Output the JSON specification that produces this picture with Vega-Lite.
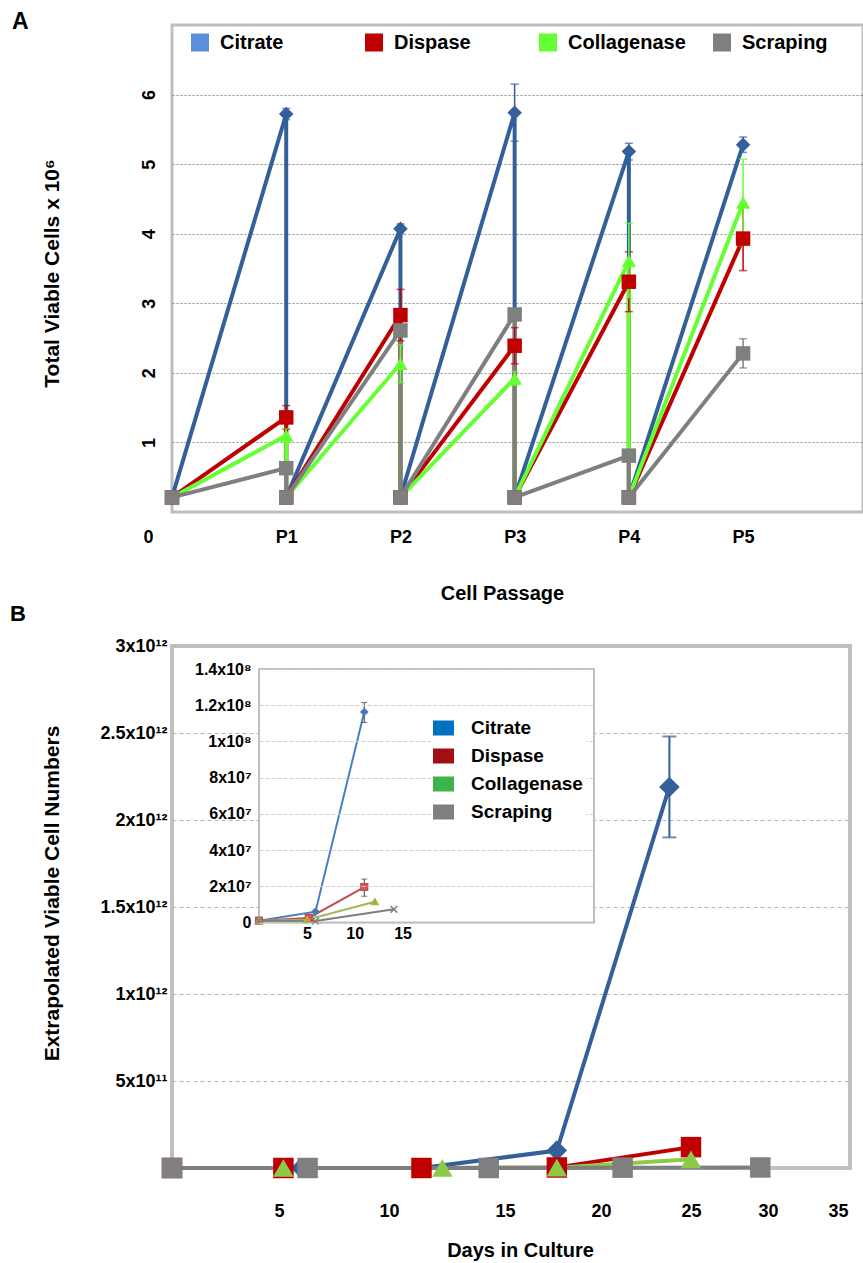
{
  "$schema": "https://vega.github.io/schema/vega-lite/v6.json",
  "background": "white",
  "padding": {"left": 8, "top": 9, "right": 0, "bottom": 0},
  "bounds": "flush",
  "spacing": 134,
  "resolve": {"scale": {"color": "independent", "shape": "independent", "fill": "independent", "stroke": "independent"}, "legend": {"color": "independent", "shape": "independent", "fill": "independent", "stroke": "independent"}},
  "config": {
    "font": "Liberation Sans",
    "axis": {"labelFont": "Liberation Sans", "labelFontWeight": "bold", "labelColor": "#000000", "titleFont": "Liberation Sans", "titleFontWeight": "bold", "titleColor": "#000000", "domain": false, "ticks": false, "tickSize": 0},
    "legend": {"labelFont": "Liberation Sans", "labelFontWeight": "bold", "labelColor": "#000000"},
    "title": {"font": "Liberation Sans", "fontWeight": "bold", "color": "#000000"}
  },
  "datasets": {
    "aSeries": [
      {"method": "Citrate", "i": 0, "x": 0, "y": 0.21}, {"method": "Citrate", "i": 1, "x": 1, "y": 5.72}, {"method": "Citrate", "i": 2, "x": 1, "y": 0.21}, {"method": "Citrate", "i": 3, "x": 2, "y": 4.07}, {"method": "Citrate", "i": 4, "x": 2, "y": 0.21}, {"method": "Citrate", "i": 5, "x": 3, "y": 5.74}, {"method": "Citrate", "i": 6, "x": 3, "y": 0.21}, {"method": "Citrate", "i": 7, "x": 4, "y": 5.18}, {"method": "Citrate", "i": 8, "x": 4, "y": 0.21}, {"method": "Citrate", "i": 9, "x": 5, "y": 5.28},
      {"method": "Dispase", "i": 0, "x": 0, "y": 0.21}, {"method": "Dispase", "i": 1, "x": 1, "y": 1.36}, {"method": "Dispase", "i": 2, "x": 1, "y": 0.21}, {"method": "Dispase", "i": 3, "x": 2, "y": 2.83}, {"method": "Dispase", "i": 4, "x": 2, "y": 0.21}, {"method": "Dispase", "i": 5, "x": 3, "y": 2.39}, {"method": "Dispase", "i": 6, "x": 3, "y": 0.21}, {"method": "Dispase", "i": 7, "x": 4, "y": 3.31}, {"method": "Dispase", "i": 8, "x": 4, "y": 0.21}, {"method": "Dispase", "i": 9, "x": 5, "y": 3.93},
      {"method": "Collagenase", "i": 0, "x": 0, "y": 0.21}, {"method": "Collagenase", "i": 1, "x": 1, "y": 1.10}, {"method": "Collagenase", "i": 2, "x": 1, "y": 0.21}, {"method": "Collagenase", "i": 3, "x": 2, "y": 2.13}, {"method": "Collagenase", "i": 4, "x": 2, "y": 0.21}, {"method": "Collagenase", "i": 5, "x": 3, "y": 1.92}, {"method": "Collagenase", "i": 6, "x": 3, "y": 0.21}, {"method": "Collagenase", "i": 7, "x": 4, "y": 3.61}, {"method": "Collagenase", "i": 8, "x": 4, "y": 0.21}, {"method": "Collagenase", "i": 9, "x": 5, "y": 4.45},
      {"method": "Scraping", "i": 0, "x": 0, "y": 0.21}, {"method": "Scraping", "i": 1, "x": 1, "y": 0.63}, {"method": "Scraping", "i": 2, "x": 1, "y": 0.21}, {"method": "Scraping", "i": 3, "x": 2, "y": 2.61}, {"method": "Scraping", "i": 4, "x": 2, "y": 0.21}, {"method": "Scraping", "i": 5, "x": 3, "y": 2.84}, {"method": "Scraping", "i": 6, "x": 3, "y": 0.21}, {"method": "Scraping", "i": 7, "x": 4, "y": 0.81}, {"method": "Scraping", "i": 8, "x": 4, "y": 0.21}, {"method": "Scraping", "i": 9, "x": 5, "y": 2.28}
    ],
    "aErr": [
      {"method": "Citrate", "x": 1, "lo": 5.64, "hi": 5.80}, {"method": "Citrate", "x": 2, "lo": 4.00, "hi": 4.14}, {"method": "Citrate", "x": 3, "lo": 5.33, "hi": 6.15}, {"method": "Citrate", "x": 4, "lo": 5.06, "hi": 5.30}, {"method": "Citrate", "x": 5, "lo": 5.17, "hi": 5.39},
      {"method": "Dispase", "x": 1, "lo": 1.19, "hi": 1.53}, {"method": "Dispase", "x": 2, "lo": 2.46, "hi": 3.20}, {"method": "Dispase", "x": 3, "lo": 2.13, "hi": 2.65}, {"method": "Dispase", "x": 4, "lo": 2.88, "hi": 3.74}, {"method": "Dispase", "x": 5, "lo": 3.47, "hi": 4.39},
      {"method": "Collagenase", "x": 1, "lo": 1.00, "hi": 1.20}, {"method": "Collagenase", "x": 2, "lo": 1.86, "hi": 2.40}, {"method": "Collagenase", "x": 3, "lo": 1.82, "hi": 2.02}, {"method": "Collagenase", "x": 4, "lo": 3.07, "hi": 4.15}, {"method": "Collagenase", "x": 5, "lo": 3.83, "hi": 5.07},
      {"method": "Scraping", "x": 1, "lo": 0.55, "hi": 0.71}, {"method": "Scraping", "x": 2, "lo": 2.55, "hi": 2.67}, {"method": "Scraping", "x": 3, "lo": 2.78, "hi": 2.90}, {"method": "Scraping", "x": 4, "lo": 0.75, "hi": 0.87}, {"method": "Scraping", "x": 5, "lo": 2.07, "hi": 2.49}
    ],
    "bMain": [
      {"method": "Citrate", "i": 0, "day": 0, "cells": 1e6}, {"method": "Citrate", "i": 1, "day": 6.0, "cells": 5.5e6}, {"method": "Citrate", "i": 2, "day": 11.4, "cells": 1.16e8}, {"method": "Citrate", "i": 3, "day": 17.7, "cells": 1.0e11}, {"method": "Citrate", "i": 4, "day": 23.8, "cells": 2.19e12},
      {"method": "Dispase", "i": 0, "day": 0, "cells": 1e6}, {"method": "Dispase", "i": 1, "day": 5.2, "cells": 2.5e6}, {"method": "Dispase", "i": 2, "day": 11.4, "cells": 1.93e7}, {"method": "Dispase", "i": 3, "day": 17.7, "cells": 3e9}, {"method": "Dispase", "i": 4, "day": 25, "cells": 1.2e11},
      {"method": "Collagenase", "i": 0, "day": 0, "cells": 1e6}, {"method": "Collagenase", "i": 1, "day": 5.2, "cells": 1.5e6}, {"method": "Collagenase", "i": 2, "day": 12.3, "cells": 1.12e7}, {"method": "Collagenase", "i": 3, "day": 17.7, "cells": 2e9}, {"method": "Collagenase", "i": 4, "day": 25, "cells": 5e10},
      {"method": "Scraping", "i": 0, "day": 0, "cells": 1e6}, {"method": "Scraping", "i": 1, "day": 6.3, "cells": 8e5}, {"method": "Scraping", "i": 2, "day": 14.3, "cells": 7.2e6}, {"method": "Scraping", "i": 3, "day": 21.2, "cells": 2e9}, {"method": "Scraping", "i": 4, "day": 29.5, "cells": 3e9}
    ],
    "bErr": [
      {"method": "Citrate", "day": 23.8, "lo": 1.9e12, "hi": 2.48e12}
    ],
    "bInset": [
      {"method": "Citrate", "i": 0, "day": 0, "cells": 1e6}, {"method": "Citrate", "i": 1, "day": 5.9, "cells": 6e6}, {"method": "Citrate", "i": 2, "day": 11.0, "cells": 1.163e8},
      {"method": "Dispase", "i": 0, "day": 0, "cells": 1e6}, {"method": "Dispase", "i": 1, "day": 5.2, "cells": 2.5e6}, {"method": "Dispase", "i": 2, "day": 11.0, "cells": 1.96e7},
      {"method": "Collagenase", "i": 0, "day": 0, "cells": 1e6}, {"method": "Collagenase", "i": 1, "day": 5.0, "cells": 1.5e6}, {"method": "Collagenase", "i": 2, "day": 12.1, "cells": 1.15e7},
      {"method": "Scraping", "i": 0, "day": 0, "cells": 1e6}, {"method": "Scraping", "i": 1, "day": 5.9, "cells": 8e5}, {"method": "Scraping", "i": 2, "day": 14.1, "cells": 7.3e6}
    ],
    "insetErr": [
      {"method": "Citrate", "day": 11.0, "lo": 1.105e8, "hi": 1.215e8},
      {"method": "Dispase", "day": 11.0, "lo": 1.45e7, "hi": 2.4e7}
    ]
  },
  "vconcat": [
    {
      "title": {"text": "A", "anchor": "start", "frame": "group", "dx": -160, "offset": -27, "baseline": "alphabetic", "fontSize": 23},
      "width": 691,
      "height": 487,
      "view": {"stroke": "#BFBFBF", "strokeWidth": 3},
      "layer": [
        {
          "data": {"name": "aSeries"},
          "mark": {"type": "line", "strokeWidth": 4},
          "encoding": {
            "x": {"field": "x", "type": "quantitative", "scale": {"domain": [0, 6.05], "nice": false, "zero": false},
              "axis": {"orient": "bottom", "values": [0, 1, 2, 3, 4, 5], "labelExpr": "datum.value == 0 ? '0' : 'P' + datum.value", "grid": false, "labelFontSize": 18, "labelPadding": 16, "labelOffset": {"condition": {"test": "datum.value == 0", "value": -29}, "value": 0}, "title": "Cell Passage", "titleFontSize": 20, "titleX": 330, "titleY": 81, "titleBaseline": "middle"}},
            "y": {"field": "y", "type": "quantitative", "title": "Total Viable Cells x 10⁶", "scale": {"domain": [0, 7], "nice": false},
              "axis": {"orient": "left", "values": [1, 2, 3, 4, 5, 6], "format": "d", "grid": true, "gridColor": "#8C8C8C", "gridDash": [2, 2], "gridWidth": 1, "labelAngle": -90, "labelAlign": "center", "labelBaseline": "bottom", "labelFontSize": 18, "labelPadding": 14, "title": "Total Viable Cells x 10⁶", "titleFontSize": 21, "titleAngle": -90, "titleX": -120, "titleY": 248, "titleBaseline": "middle", "titleAlign": "center"}},
            "color": {"field": "method", "type": "nominal", "scale": {"range": ["#34609A", "#66FF33", "#C00000", "#7F7F7F"]}, "legend": null},
            "order": {"field": "i", "type": "quantitative"}
          }
        },
        {
          "data": {"name": "aErr"},
          "mark": {"type": "errorbar", "ticks": true, "size": 8, "thickness": 1.5},
          "encoding": {
            "x": {"field": "x", "type": "quantitative", "title": "Cell Passage"},
            "y": {"field": "lo", "type": "quantitative", "title": "Total Viable Cells x 10⁶"},
            "y2": {"field": "hi"},
            "color": {"field": "method", "type": "nominal", "legend": null}
          }
        },
        {
          "data": {"name": "aSeries"},
          "mark": {"type": "point", "filled": true, "opacity": 1, "size": 210},
          "encoding": {
            "x": {"field": "x", "type": "quantitative", "title": "Cell Passage"},
            "y": {"field": "y", "type": "quantitative", "title": "Total Viable Cells x 10⁶"},
            "color": {"field": "method", "type": "nominal", "legend": null},
            "shape": {"field": "method", "type": "nominal", "scale": {"range": ["diamond", "triangle-up", "square", "square"]}, "legend": null}
          }
        },
        {
          "data": {"name": "aSeries"},
          "mark": {"type": "point", "opacity": 0},
          "encoding": {
            "fill": {"field": "method", "type": "nominal", "scale": {"domain": ["Citrate", "Dispase", "Collagenase", "Scraping"], "range": ["#5B8FD9", "#C00000", "#66FF33", "#7F7F7F"]},
              "legend": {"orient": "none", "legendX": 18, "legendY": 7.5, "direction": "horizontal", "columns": 4, "gridAlign": "all", "columnPadding": 26, "symbolType": "square", "symbolSize": 324, "symbolStrokeWidth": 0, "symbolOpacity": 1, "labelFontSize": 20, "labelOffset": 10, "labelLimit": 0, "title": null}}
          }
        }
      ]
    },
    {
      "title": {"text": "B", "anchor": "start", "frame": "group", "dx": -162, "offset": -6, "baseline": "alphabetic", "fontSize": 22},
      "width": 678,
      "height": 522,
      "view": {"stroke": "#C0C0C0", "strokeWidth": 4},
      "resolve": {"scale": {"x": "independent", "y": "independent", "color": "independent", "shape": "independent", "fill": "independent", "stroke": "independent"}, "axis": {"x": "independent", "y": "independent"}},
      "layer": [
        {
          "layer": [
            {
              "data": {"name": "bMain"},
              "mark": {"type": "line", "strokeWidth": 4},
              "encoding": {
                "x": {"field": "day", "type": "quantitative", "title": "Days in Culture", "scale": {"domain": [0, 5, 10, 15, 20, 25, 30, 35], "range": [0, 107, 217, 333, 429, 519, 596, 676], "nice": false, "zero": false},
                  "axis": {"orient": "bottom", "values": [5, 10, 15, 20, 25, 30, 35], "grid": false, "labelFontSize": 18, "labelPadding": 34, "title": "Days in Culture", "titleFontSize": 20, "titleX": 348, "titleY": 82, "titleBaseline": "middle"}},
                "y": {"field": "cells", "type": "quantitative", "title": "Extrapolated Viable Cell Numbers", "scale": {"domain": [0, 3e12], "nice": false},
                  "axis": {"orient": "left", "values": [5e11, 1e12, 1.5e12, 2e12, 2.5e12, 3e12], "labelExpr": "datum.value < 1e12 ? (datum.value/1e11) + 'x10¹¹' : (datum.value/1e12) + 'x10¹²'", "grid": true, "gridColor": "#B4B4B4", "gridDash": [4, 3], "labelFontSize": 18, "labelPadding": 5, "title": "Extrapolated Viable Cell Numbers", "titleFontSize": 21, "titleAngle": -90, "titleX": -120, "titleY": 247, "titleBaseline": "middle", "titleAlign": "center"}},
                "color": {"field": "method", "type": "nominal", "scale": {"range": ["#34609A", "#8CCB48", "#C00000", "#7F7F7F"]}, "legend": null},
                "order": {"field": "i", "type": "quantitative"}
              }
            },
            {
              "data": {"name": "bErr"},
              "mark": {"type": "errorbar", "ticks": true, "size": 14, "thickness": 2},
              "encoding": {
                "x": {"field": "day", "type": "quantitative", "title": "Days in Culture"},
                "y": {"field": "lo", "type": "quantitative", "title": "Extrapolated Viable Cell Numbers"},
                "y2": {"field": "hi"},
                "color": {"field": "method", "type": "nominal", "legend": null}
              }
            },
            {
              "data": {"name": "bMain"},
              "mark": {"type": "point", "filled": true, "opacity": 1, "size": 420},
              "encoding": {
                "x": {"field": "day", "type": "quantitative", "title": "Days in Culture"},
                "y": {"field": "cells", "type": "quantitative", "title": "Extrapolated Viable Cell Numbers"},
                "color": {"field": "method", "type": "nominal", "legend": null},
                "shape": {"field": "method", "type": "nominal", "scale": {"range": ["diamond", "triangle-up", "square", "square"]}, "legend": null}
              }
            }
          ]
        },
        {
          "resolve": {"scale": {"color": "independent", "fill": "independent"}},
          "layer": [
            {
              "data": {"values": [{}]},
              "mark": {"type": "rect", "fill": "white", "stroke": "#BFBFBF", "strokeWidth": 2},
              "encoding": {
                "x": {"datum": 0, "type": "quantitative", "scale": {"domain": [0, 35], "range": [87, 422], "nice": false, "zero": false}},
                "x2": {"datum": 35},
                "y": {"datum": 0, "type": "quantitative", "scale": {"domain": [0, 1.4e8], "range": [276.5, 23], "nice": false}},
                "y2": {"datum": 1.4e8}
              }
            },
            {
              "data": {"name": "bInset"},
              "mark": {"type": "line", "strokeWidth": 2},
              "encoding": {
                "x": {"field": "day", "type": "quantitative", "scale": {"domain": [0, 35], "range": [87, 422], "nice": false, "zero": false},
                  "axis": {"orient": "bottom", "offset": -245.5, "values": [5, 10, 15], "grid": false, "labelFontSize": 16, "labelPadding": 3, "title": null, "zindex": 1}},
                "y": {"field": "cells", "type": "quantitative", "scale": {"domain": [0, 1.4e8], "range": [276.5, 23], "nice": false},
                  "axis": {"orient": "left", "offset": -87, "values": [0, 2e7, 4e7, 6e7, 8e7, 1e8, 1.2e8, 1.4e8], "labelExpr": "datum.value == 0 ? '0' : datum.value < 1e8 ? (datum.value/1e7) + 'x10⁷' : (datum.value/1e8) + 'x10⁸'", "grid": true, "gridColor": "#CFCFCF", "gridDash": [4, 2], "labelFontSize": 16, "labelPadding": 8, "title": null, "zindex": 1}},
                "color": {"field": "method", "type": "nominal", "scale": {"range": ["#4A7EC4", "#9BBB59", "#C0504D", "#7F7F7F"]}, "legend": null},
                "order": {"field": "i", "type": "quantitative"}
              }
            },
            {
              "data": {"name": "insetErr"},
              "mark": {"type": "errorbar", "ticks": true, "size": 6, "thickness": 1, "color": "#404040"},
              "encoding": {
                "x": {"field": "day", "type": "quantitative"},
                "y": {"field": "lo", "type": "quantitative"},
                "y2": {"field": "hi"}
              }
            },
            {
              "data": {"name": "bInset"},
              "mark": {"type": "point", "filled": true, "opacity": 1, "size": 45, "strokeWidth": 1.5},
              "encoding": {
                "x": {"field": "day", "type": "quantitative"},
                "y": {"field": "cells", "type": "quantitative"},
                "color": {"field": "method", "type": "nominal", "legend": null},
                "stroke": {"field": "method", "type": "nominal", "scale": {"range": ["#4A7EC4", "#9BBB59", "#C0504D", "#7F7F7F"]}, "legend": null},
                "shape": {"field": "method", "type": "nominal", "scale": {"range": ["diamond", "triangle-up", "square", "M-1,-1L1,1M-1,1L1,-1"]}, "legend": null}
              }
            },
            {
              "data": {"name": "bInset"},
              "mark": {"type": "point", "opacity": 0},
              "encoding": {
                "fill": {"field": "method", "type": "nominal", "scale": {"domain": ["Citrate", "Dispase", "Collagenase", "Scraping"], "range": ["#0070C0", "#A10E13", "#3CB44B", "#7F7F7F"]},
                  "legend": {"orient": "none", "legendX": 259, "legendY": 69.5, "padding": 3, "fillColor": "white", "zindex": 2, "direction": "vertical", "symbolType": "M-1.4,-1H1.4V1H-1.4Z", "symbolSize": 225, "symbolStrokeWidth": 0, "symbolOpacity": 1, "labelFontSize": 19, "labelOffset": 18, "rowPadding": 8, "labelLimit": 0, "title": null}}
              }
            }
          ]
        }
      ]
    }
  ]
}
